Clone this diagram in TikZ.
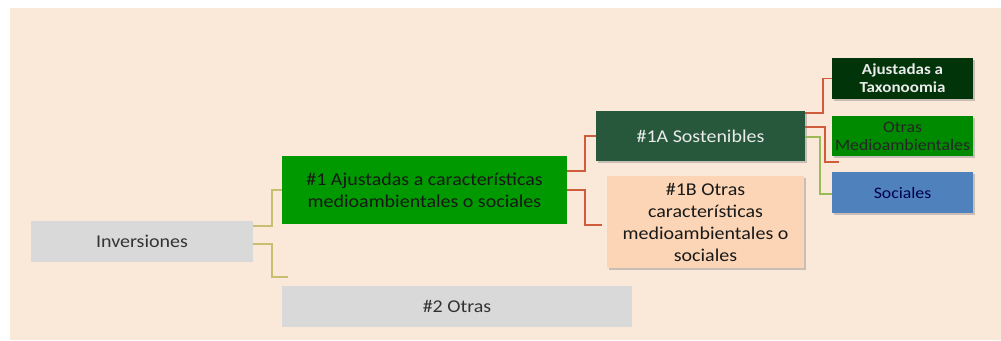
\documentclass[tikz,border=0pt]{standalone}
\usepackage{fontspec}
\setmainfont[FakeStretch=1.11]{Carlito}
\usetikzlibrary{shadows}
\definecolor{fondo}{RGB}{250,232,216}
\definecolor{gris}{RGB}{217,217,217}
\definecolor{verde}{RGB}{0,153,0}
\definecolor{verdeosc}{RGB}{39,88,60}
\definecolor{taxo}{RGB}{1,52,8}
\definecolor{verdemed}{RGB}{0,138,0}
\definecolor{azul}{RGB}{79,129,189}
\definecolor{durazno}{RGB}{251,213,181}
\definecolor{rojo}{RGB}{208,92,62}
\definecolor{kaki}{RGB}{200,190,112}
\definecolor{verdecl}{RGB}{155,187,89}
\begin{document}
\begin{tikzpicture}[x=0.75pt,y=-0.75pt,font=\fontsize{13.5}{16.5}\selectfont,
		caja/.style={rectangle,inner sep=0pt,align=center},
		sombra/.style={drop shadow={shadow xshift=1.2pt,shadow yshift=-1.5pt,fill=black!45,opacity=.45}},
		chica/.style={caja,sombra,minimum width=105.75pt,minimum height=30.75pt,font=\fontsize{12}{13.5}\selectfont},
		lin/.style={line width=1.4pt}]
		\useasboundingbox (0,0) rectangle (1001,340);
		\fill[fondo] (10,8) rectangle (1001,340);
		\node[caja,fill=gris,text=black!80,minimum width=166.5pt,minimum height=30.75pt] (1) at (142,241.5) {Inversiones};
		\node[caja,fill=verde,text=black!90,minimum width=213.75pt,minimum height=51pt] (2) at (424.5,190) {\#1 Ajustadas a características\\medioambientales o sociales};
		\node[caja,fill=gris,text=black!80,minimum width=262.5pt,minimum height=30.75pt] (3) at (457,306.5) {\#2 Otras};
		\node[caja,sombra,fill=verdeosc,text=white!92!black,minimum width=156.75pt,minimum height=37.5pt] (4) at (700.5,136) {\#1A Sostenibles};
		\node[caja,sombra,fill=durazno,text=black!90,minimum width=147.75pt,minimum height=69pt] (5) at (705.5,222) {\#1B Otras\\características\\medioambientales o\\sociales};
		\node[chica,fill=taxo,text=white!92!black,font=\fontsize{11.5}{13.5}\selectfont\bfseries] (6) at (902.5,78.5) {Ajustadas a\\Taxonoomia};
		\node[chica,fill=verdemed,text=black!85,minimum height=30pt] (7) at (902.5,136) {Otras\\Medioambientales};
		\node[chica,fill=azul,text=blue!30!black] (8) at (902.5,192.5) {Sociales};
		\draw[lin,kaki] ([yshift=11.6pt]1.east) -- ++(19,0) |- (2.west);
		\draw[lin,kaki] ([yshift=-1.9pt]1.east) -- ++(19,0) |- ([xshift=4.5pt,yshift=6.75pt]3.north west);
		\draw[lin,rojo] ([yshift=14.25pt]2.east) -- ++(18,0) |- (4.west);
		\draw[lin,rojo] (2.east) -- ++(18,0) |- ([xshift=-3.75pt,yshift=-2.25pt]5.west);
		\draw[lin,rojo] ([yshift=17.25pt]4.east) -- ++(18,0) |- (6.west);
		\draw[lin,rojo] ([yshift=6.75pt]4.east) -- ++(20,0) |- ([xshift=5.25pt,yshift=-4.5pt]7.south west);
		\draw[lin,verdecl] ([yshift=-0.75pt]4.east) -- ++(15,0) |- ([yshift=-1.1pt]8.west);
	\end{tikzpicture}
\end{document}
